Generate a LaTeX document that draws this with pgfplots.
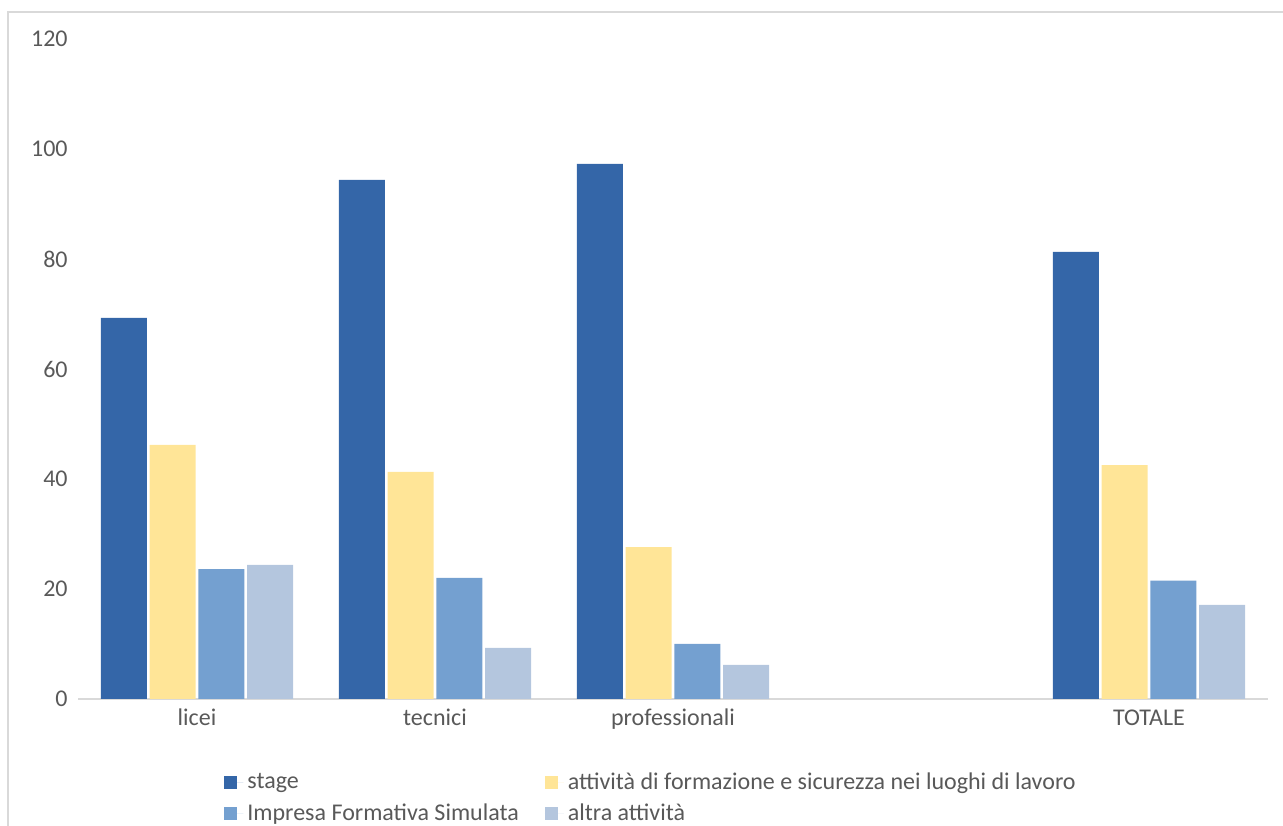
\documentclass[border=0pt]{standalone}
\usepackage{pgfplots}
\pgfplotsset{compat=1.18}
\usepackage{fontspec}
\setmainfont{Carlito}

\definecolor{cstage}{HTML}{3466A8}
\definecolor{cform}{HTML}{FFE597}
\definecolor{cifs}{HTML}{74A0D0}
\definecolor{caltra}{HTML}{B4C6DE}
\definecolor{ctext}{HTML}{595959}
\definecolor{cline}{HTML}{D9D9D9}

\begin{document}
\fontsize{12bp}{14bp}\selectfont
\begin{tikzpicture}
\useasboundingbox (0,0) rectangle (641.5bp,413bp);
% chart area frame (left and top edges visible)
\draw[cline, line width=0.75bp] (4bp,0) -- (4bp,407bp) -- (641.5bp,407bp);
\begin{axis}[
    at={(39bp,63.5bp)}, anchor=south west,
    scale only axis,
    width=595bp, height=330bp,
    ybar=1.4bp, bar width=23bp,
    xmin=-0.5, xmax=4.5,
    ymin=0, ymax=120,
    xtick={0,1,2,4},
    xticklabels={licei,tecnici,professionali,TOTALE},
    ytick={0,20,...,120},
    major tick length=0pt,
    axis x line*=bottom, axis y line*=left,
    x axis line style={draw=cline, line width=0.75bp, -},
    y axis line style={draw=none},
    ticklabel style={font=\fontsize{12bp}{14bp}\selectfont, text=ctext},
    /pgf/number format/assume math mode=true,
    yticklabel style={xshift=-1bp},
    xticklabel style={anchor=base, yshift=-13bp},
    legend columns=2,
    legend style={at={(0.1227,-0.1076)}, anchor=north west, draw=none,
        font=\fontsize{12bp}{14bp}\selectfont, text=ctext,
        row sep=3.5bp, inner sep=0pt,
        /tikz/every even column/.append style={column sep=11bp},
        nodes={inner xsep=2bp, inner ysep=1bp}},
    legend image code/.code={\fill[#1] (0bp,-3.25bp) rectangle (6.5bp,3.25bp);
        \path (0bp,0bp) -- (9.5bp,0bp);},
    legend cell align=left,
]
\addplot[fill=cstage, draw=none] coordinates {(0,69.3) (1,94.4) (2,97.3) (4,81.3)};
\addplot[fill=cform, draw=none] coordinates {(0,46.2) (1,41.3) (2,27.6) (4,42.5)};
\addplot[fill=cifs, draw=none] coordinates {(0,23.6) (1,22.0) (2,10.0) (4,21.5)};
\addplot[fill=caltra, draw=none] coordinates {(0,24.4) (1,9.3) (2,6.2) (4,17.1)};
\legend{stage, attività di formazione e sicurezza nei luoghi di lavoro, Impresa Formativa Simulata, altra attività}
\end{axis}
\end{tikzpicture}
\end{document}
